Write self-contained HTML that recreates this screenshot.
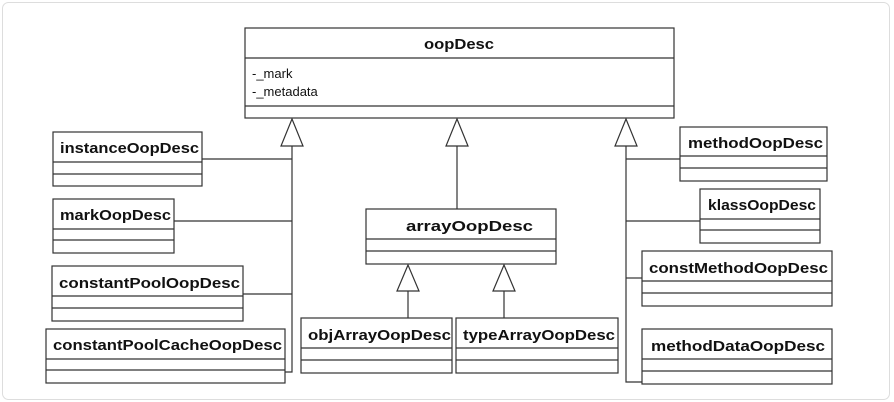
<!DOCTYPE html>
<html><head><style>
html,body{margin:0;padding:0;background:#fff;}
svg{display:block;}
text{font-family:"Liberation Sans",sans-serif;fill:#111;}
.t{font-weight:bold;font-size:15px;}
.a{font-size:13px;}
</style></head><body>
<svg width="894" height="402" viewBox="0 0 894 402" xmlns="http://www.w3.org/2000/svg">
<rect x="2.5" y="2.5" width="887" height="397" rx="6" fill="#fff" stroke="#ddd"/>
<g fill="none" stroke="#333" stroke-width="1.2">
<!-- oopDesc -->
<rect x="245" y="28" width="429" height="90"/>
<line x1="245" y1="58" x2="674" y2="58"/><line x1="245" y1="106" x2="674" y2="106"/>
<!-- left boxes -->
<rect x="53" y="132" width="149" height="54"/><line x1="53" y1="162" x2="202" y2="162"/><line x1="53" y1="174" x2="202" y2="174"/>
<rect x="53" y="199" width="121" height="54"/><line x1="53" y1="229" x2="174" y2="229"/><line x1="53" y1="240" x2="174" y2="240"/>
<rect x="52" y="266" width="191" height="55"/><line x1="52" y1="296" x2="243" y2="296"/><line x1="52" y1="308" x2="243" y2="308"/>
<rect x="46" y="329" width="239" height="54"/><line x1="46" y1="359" x2="285" y2="359"/><line x1="46" y1="370" x2="285" y2="370"/>
<!-- array -->
<rect x="366" y="209" width="190" height="55"/><line x1="366" y1="239" x2="556" y2="239"/><line x1="366" y1="251" x2="556" y2="251"/>
<rect x="301" y="318" width="151" height="55"/><line x1="301" y1="348" x2="452" y2="348"/><line x1="301" y1="360" x2="452" y2="360"/>
<rect x="456" y="318" width="162" height="55"/><line x1="456" y1="348" x2="618" y2="348"/><line x1="456" y1="360" x2="618" y2="360"/>
<!-- right boxes -->
<rect x="680" y="127" width="147" height="54"/><line x1="680" y1="156" x2="827" y2="156"/><line x1="680" y1="168" x2="827" y2="168"/>
<rect x="700" y="189" width="120" height="54"/><line x1="700" y1="219" x2="820" y2="219"/><line x1="700" y1="230" x2="820" y2="230"/>
<rect x="642" y="251" width="190" height="55"/><line x1="642" y1="281" x2="832" y2="281"/><line x1="642" y1="293" x2="832" y2="293"/>
<rect x="642" y="329" width="190" height="55"/><line x1="642" y1="359" x2="832" y2="359"/><line x1="642" y1="371" x2="832" y2="371"/>
<!-- connectors -->
<polyline points="292,146 292,372 285,372"/>
<line x1="202" y1="159" x2="292" y2="159"/><line x1="174" y1="221" x2="292" y2="221"/><line x1="243" y1="294" x2="292" y2="294"/>
<line x1="457" y1="146" x2="457" y2="209"/>
<line x1="408" y1="291" x2="408" y2="318"/><line x1="504" y1="291" x2="504" y2="318"/>
<polyline points="626,146 626,382 642,382"/>
<line x1="626" y1="159" x2="680" y2="159"/><line x1="626" y1="221" x2="700" y2="221"/><line x1="626" y1="278" x2="642" y2="278"/>
<!-- triangles -->
<polygon points="292,119 281,146 303,146" fill="#fff"/>
<polygon points="457,119 446,146 468,146" fill="#fff"/>
<polygon points="626,119 615,146 637,146" fill="#fff"/>
<polygon points="408,265 397,291 419,291" fill="#fff"/>
<polygon points="504,265 493,291 515,291" fill="#fff"/>
</g>
<text class="t" x="424" y="49" textLength="70" lengthAdjust="spacingAndGlyphs">oopDesc</text>
<text class="a" x="252" y="78">-_mark</text>
<text class="a" x="252" y="96">-_metadata</text>
<text class="t" x="60" y="153" textLength="139" lengthAdjust="spacingAndGlyphs">instanceOopDesc</text>
<text class="t" x="60" y="220" textLength="111" lengthAdjust="spacingAndGlyphs">markOopDesc</text>
<text class="t" x="59" y="288" textLength="181" lengthAdjust="spacingAndGlyphs">constantPoolOopDesc</text>
<text class="t" x="53" y="350" textLength="229" lengthAdjust="spacingAndGlyphs">constantPoolCacheOopDesc</text>
<text class="t" x="406" y="231" textLength="127" lengthAdjust="spacingAndGlyphs">arrayOopDesc</text>
<text class="t" x="308" y="340" textLength="143" lengthAdjust="spacingAndGlyphs">objArrayOopDesc</text>
<text class="t" x="463" y="340" textLength="152" lengthAdjust="spacingAndGlyphs">typeArrayOopDesc</text>
<text class="t" x="688" y="148" textLength="135" lengthAdjust="spacingAndGlyphs">methodOopDesc</text>
<text class="t" x="708" y="210" textLength="108" lengthAdjust="spacingAndGlyphs">klassOopDesc</text>
<text class="t" x="649" y="273" textLength="179" lengthAdjust="spacingAndGlyphs">constMethodOopDesc</text>
<text class="t" x="651" y="351" textLength="174" lengthAdjust="spacingAndGlyphs">methodDataOopDesc</text>
</svg>
</body></html>
